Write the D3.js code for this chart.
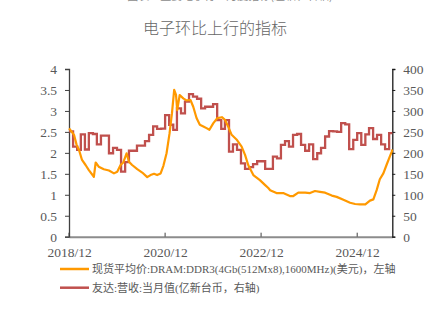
<!DOCTYPE html>
<html><head><meta charset="utf-8">
<script src="https://cdn.jsdelivr.net/npm/d3@7"></script>
<style>body{margin:0;background:#fff;}svg{display:block;}</style>
</head><body>
<svg id="c" width="429" height="327"></svg>
<script>
const title = "电子环比上行的指标";
const topNote = "图表：重要电子行业月度指标(左轴、右轴)";
const legendLabels = ["现货平均价:DRAM:DDR3(4Gb(512Mx8),1600MHz)(美元)，左轴", "友达:营收:当月值(亿新台币，右轴)"];
const xTickLabels = ["2018/12", "2020/12", "2022/12", "2024/12"];
const leftTicks = [0, 0.5, 1, 1.5, 2, 2.5, 3, 3.5, 4];
const rightTicks = [0, 50, 100, 150, 200, 250, 300, 350, 400];

// DRAM DDR3 spot average price (USD), left axis
const dramDates = ["2018-12-01","2018-12-08","2019-01-08","2019-01-28","2019-02-15","2019-03-10","2019-04-06","2019-05-01","2019-06-08","2019-06-22","2019-07-15","2019-08-23","2019-10-01","2019-11-08","2019-12-03","2019-12-28","2020-01-18","2020-02-12","2020-03-01","2020-03-25","2020-05-03","2020-06-10","2020-07-18","2020-08-12","2020-09-08","2020-10-01","2020-10-28","2020-11-18","2020-12-12","2021-01-04","2021-01-22","2021-02-08","2021-02-22","2021-03-03","2021-03-22","2021-04-18","2021-05-12","2021-06-12","2021-07-03","2021-07-28","2021-08-22","2021-09-18","2021-10-12","2021-11-03","2021-12-03","2022-01-03","2022-02-06","2022-03-01","2022-03-25","2022-04-21","2022-05-28","2022-07-06","2022-08-01","2022-08-25","2022-10-03","2022-11-22","2023-01-01","2023-01-25","2023-02-08","2023-03-28","2023-05-18","2023-07-08","2023-08-03","2023-09-10","2023-11-01","2023-12-08","2024-01-15","2024-02-22","2024-04-01","2024-05-22","2024-06-28","2024-08-18","2024-10-08","2024-11-15","2024-12-22","2025-02-01","2025-03-08","2025-04-03","2025-04-28","2025-05-22","2025-06-18","2025-07-12","2025-08-08","2025-08-21","2025-08-25"];
const dramValues = [2.58,2.56,2.43,2.19,2.07,1.83,1.71,1.59,1.43,1.77,1.67,1.61,1.58,1.51,1.55,1.71,1.77,1.99,1.79,1.71,1.61,1.53,1.42,1.47,1.50,1.47,1.51,1.69,1.99,2.47,2.94,3.50,3.38,3.02,3.38,3.30,3.25,3.26,3.10,2.83,2.67,2.63,2.59,2.55,2.71,2.83,2.85,2.79,2.63,2.43,2.32,2.15,1.95,1.71,1.47,1.35,1.23,1.16,1.11,1.04,1.04,0.97,0.97,1.05,1.05,1.04,1.09,1.07,1.05,0.98,0.95,0.88,0.81,0.78,0.77,0.77,0.86,0.89,1.11,1.37,1.51,1.71,1.93,2.03,2.08];

// AUO monthly revenue (100m TWD), right axis, Dec 2018 .. Aug 2025
const auoStart = "2018-12-01";
const auoValues = [251,215,207,244,208,247,245,220,241,241,199,212,207,155,178,205,205,217,217,228,243,263,257,258,290,267,255,306,294,322,340,334,329,306,310,310,316,278,257,278,203,220,207,175,162,166,173,180,180,162,162,191,187,219,228,215,243,245,219,205,220,185,199,212,239,252,251,250,271,268,209,231,247,219,244,259,233,243,220,209,247];

const parse = d3.timeParse("%Y-%m-%d");
const svg = d3.select("#c");
const L = 69, R = 392.3, T = 69, B = 236.7;
const xEnd = parse("2025-08-25");
const x = d3.scaleTime().domain([parse("2018-12-01"), xEnd]).range([L, R]);
const yL = d3.scaleLinear().domain([0, 4]).range([B, T]);
const yR = d3.scaleLinear().domain([0, 400]).range([B, T]);

const serif = "'Liberation Serif','Times New Roman',serif";
const cjk = "'Noto Sans CJK SC',sans-serif";
const grey = "#595959";

svg.append("text").attr("x", 230).attr("y", 0).attr("text-anchor", "middle")
  .attr("font-family", cjk).attr("font-size", 11).attr("fill", "#8c8c8c").text(topNote);
svg.append("text").attr("x", 215).attr("y", 34).attr("text-anchor", "middle")
  .attr("font-family", cjk).attr("font-size", 16).attr("font-weight", 300).attr("fill", "#666").text(title);

// axes
const tickDates = xTickLabels.map(s => d3.timeParse("%Y/%m")(s));
const gx = svg.append("g").attr("transform", `translate(0,${B})`)
  .call(d3.axisBottom(x).tickValues(tickDates).tickFormat(d3.timeFormat("%Y/%m")).tickSize(0).tickPadding(11));
gx.select(".domain").attr("stroke", "#8c8c8c").attr("stroke-width", 2);
gx.selectAll("text").attr("font-family", serif).attr("font-size", 13.5).attr("fill", grey);
svg.append("g").selectAll("line").data(tickDates).join("line")
  .attr("x1", d => x(d)).attr("x2", d => x(d)).attr("y1", B).attr("y2", B - 4)
  .attr("stroke", "#404040").attr("stroke-width", 1);

const gl = svg.append("g").attr("transform", `translate(${L},0)`)
  .call(d3.axisLeft(yL).tickValues(leftTicks).tickFormat(d3.format("~g")).tickSizeOuter(0).tickSize(4).tickPadding(8));
gl.select(".domain").attr("stroke", "#404040").attr("stroke-width", 1.3);
gl.selectAll("line").attr("stroke", "#404040");
gl.selectAll("text").attr("font-family", serif).attr("font-size", 13.5).attr("fill", grey);

const gr = svg.append("g").attr("transform", `translate(${R},0)`)
  .call(d3.axisRight(yR).tickValues(rightTicks).tickSizeOuter(0).tickSize(3).tickPadding(8));
gr.select(".domain").attr("stroke", "#1a1a1a").attr("stroke-width", 1.3);
gr.selectAll("line").attr("stroke", "#1a1a1a");
gr.selectAll("text").attr("font-family", serif).attr("font-size", 13.5).attr("fill", grey);

// red series (monthly, drawn as steps)
const auoData = auoValues.map((v, i) => ({d: d3.timeMonth.offset(parse(auoStart), i), v}));
auoData.push({d: xEnd, v: auoValues[auoValues.length - 1]});
svg.append("path").datum(auoData)
  .attr("fill", "none").attr("stroke", "#C0504D").attr("stroke-width", 2.3)
  .attr("d", d3.line().x(d => x(d.d)).y(d => yR(d.v)).curve(d3.curveStepAfter));

// orange series
const dramData = dramDates.map((s, i) => ({d: parse(s), v: dramValues[i]}));
svg.append("path").datum(dramData)
  .attr("fill", "none").attr("stroke", "#FF9900").attr("stroke-width", 2.2).attr("stroke-linejoin", "round")
  .attr("d", d3.line().x(d => x(d.d)).y(d => yL(d.v)));

// legend
const legColors = ["#FF9900", "#C0504D"];
const lg = svg.append("g");
legendLabels.forEach((t, i) => {
  const y = 269 + i * 18.7;
  lg.append("line").attr("x1", 60).attr("x2", 89).attr("y1", y).attr("y2", y)
    .attr("stroke", legColors[i]).attr("stroke-width", 2.5);
  lg.append("text").attr("x", 92).attr("y", y + 4).attr("font-family", serif + "," + cjk)
    .attr("font-size", 11).attr("fill", grey).text(t);
});
</script>
</body></html>
